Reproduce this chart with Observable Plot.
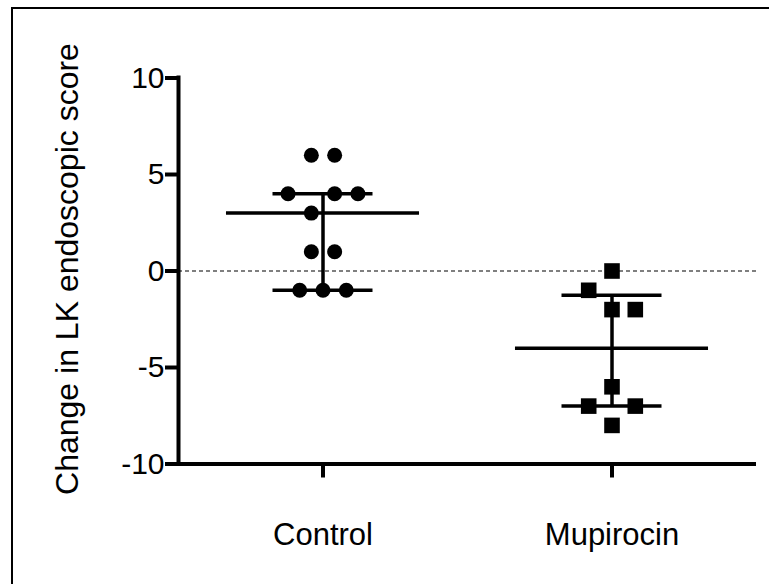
<!DOCTYPE html>
<html>
<head>
<meta charset="utf-8">
<script src="https://cdn.jsdelivr.net/npm/d3@7"></script>
<script src="https://cdn.jsdelivr.net/npm/@observablehq/plot@0.6"></script>
<style>
  html, body { margin: 0; padding: 0; background: #fff; overflow: hidden; width: 769px; height: 584px; }
  #frame { position: absolute; left: 11px; top: 7px; width: 800px; height: 620px; border-left: 2px solid #000; border-top: 2px solid #000; }
  #chart { position: absolute; left: 0; top: 0; }
</style>
</head>
<body>
<div id="frame"></div>
<div id="chart"></div>
<script>
// ---- data ----
const categories = ["Control", "Mupirocin"];
const controlValues = [6, 6, 4, 4, 4, 3, 1, 1, -1, -1, -1];
const controlSlots = [-0.5, 0.5, -1.5, 0.5, 1.5, -0.5, -0.5, 0.5, -1, 0, 1];
const mupirocinValues = [0, -1, -2, -2, -6, -7, -7, -8];
const mupirocinSlots = [0, -1, 0, 1, 0, -1, 1, 0];
const medians = [3, -4];
const lowerQuartiles = [-1, -7];
const upperQuartiles = [4, -1.25];
const yTicks = [-10, -5, 0, 5, 10];
const yLabel = "Change in LK endoscopic score";

// ---- layout constants (x in category units) ----
const slotStep = 0.0806;
const medianHalf = 0.334;
const capHalf = 0.173;
const font = "'Liberation Sans', Arial, Helvetica, sans-serif";

const controlPts = controlValues.map((v, i) => ({x: 1 + controlSlots[i] * slotStep, y: v}));
const mupPts = mupirocinValues.map((v, i) => ({x: 2 + mupirocinSlots[i] * slotStep, y: v}));
const summary = categories.map((c, i) => ({pos: i + 1, median: medians[i], q1: lowerQuartiles[i], q3: upperQuartiles[i]}));

const chart = Plot.plot({
  width: 769,
  height: 584,
  marginLeft: 178,
  marginRight: 13,
  marginTop: 77.5,
  marginBottom: 120.5,
  style: {background: "transparent", fontFamily: font, color: "#000", overflow: "visible"},
  x: {type: "linear", domain: [0.5, 2.5], label: null},
  y: {domain: [-10, 10], label: null},
  marks: [
    Plot.ruleY([0], {stroke: "#000", strokeWidth: 1.2, strokeDasharray: "4,3"}),
    Plot.axisY({ticks: yTicks, tickSize: 13, tickPadding: 1, fontSize: 30, stroke: "#000", strokeWidth: 4, tickFormat: d => String(d), label: null}),
    Plot.axisX({ticks: [1, 2], tickSize: 14, tickPadding: 45, fontSize: 31, stroke: "#000", strokeWidth: 4, tickFormat: d => categories[d - 1], label: null}),
    Plot.ruleX([0.5], {y1: -10, y2: 10, stroke: "#000", strokeWidth: 4, strokeLinecap: "square"}),
    Plot.ruleY([-10], {x1: 0.5, x2: 2.5, stroke: "#000", strokeWidth: 4}),
    // error bars (median with interquartile range)
    Plot.ruleX(summary, {x: "pos", y1: "q1", y2: "q3", stroke: "#000", strokeWidth: 3.5}),
    Plot.ruleY(summary, {y: "median", x1: d => d.pos - medianHalf, x2: d => d.pos + medianHalf, stroke: "#000", strokeWidth: 3.5}),
    Plot.ruleY(summary, {y: "q3", x1: d => d.pos - capHalf, x2: d => d.pos + capHalf, stroke: "#000", strokeWidth: 3.5}),
    Plot.ruleY(summary, {y: "q1", x1: d => d.pos - capHalf, x2: d => d.pos + capHalf, stroke: "#000", strokeWidth: 3.5}),
    // points
    Plot.dot(controlPts, {x: "x", y: "y", r: 7.5, symbol: "circle", fill: "#000", stroke: "none"}),
    Plot.dot(mupPts, {x: "x", y: "y", r: 8.8, symbol: "square", fill: "#000", stroke: "none"}),
    // y axis title
    Plot.text([yLabel], {frameAnchor: "left", dx: -111, dy: -2, rotate: -90, textAnchor: "middle", lineAnchor: "middle", fontSize: 32, fill: "#000", text: d => d})
  ]
});
document.getElementById("chart").appendChild(chart);
</script>
</body>
</html>
